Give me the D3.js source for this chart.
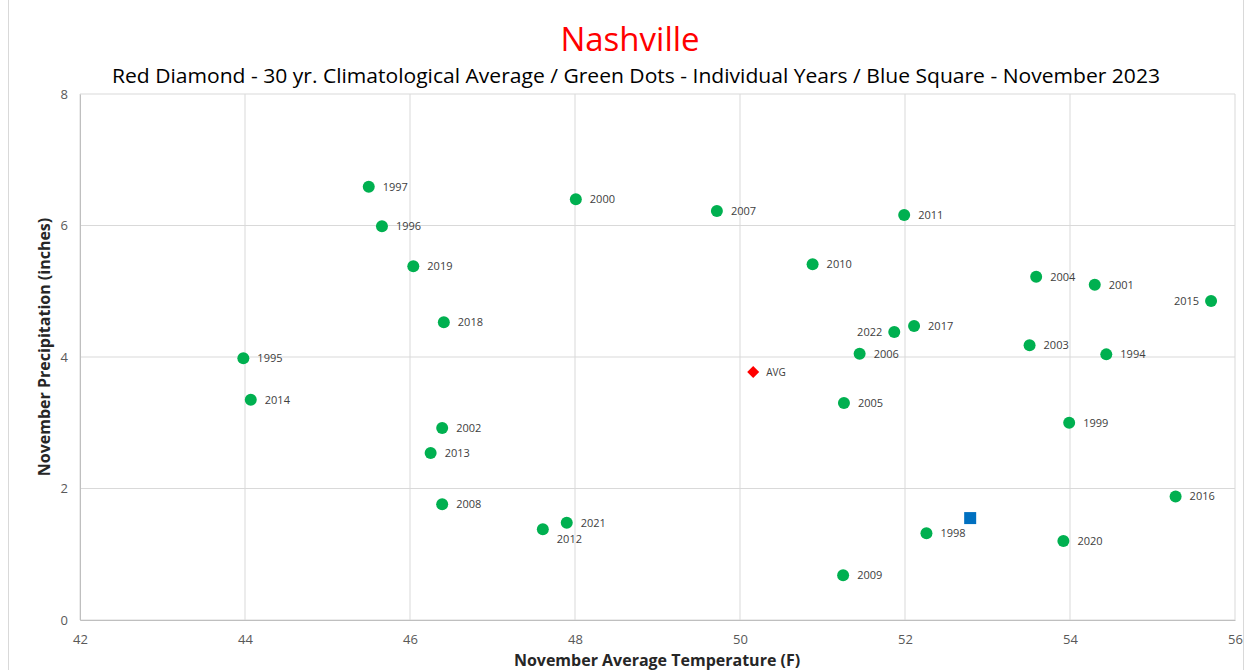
<!DOCTYPE html>
<html>
<head>
<meta charset="utf-8">
<script src="https://cdn.jsdelivr.net/npm/d3@7"></script>
<style>
  body { margin: 0; background: #fff; }
  svg text { font-family: "Open Sans", "Noto Sans", sans-serif; }
</style>
</head>
<body>
<div id="chart"></div>
<script>
// individual years: [year, temperature (F), precipitation (in)]
const years = [1994, 1995, 1996, 1997, 1998, 1999, 2000, 2001, 2002, 2003, 2004, 2005, 2006, 2007,
               2008, 2009, 2010, 2011, 2012, 2013, 2014, 2015, 2016, 2017, 2018, 2019, 2020, 2021, 2022];
const temps = [54.44, 43.98, 45.66, 45.50, 52.26, 53.99, 48.01, 54.30, 46.39, 53.51, 53.59, 51.26, 51.45, 49.72,
               46.39, 51.25, 50.88, 51.99, 47.61, 46.25, 44.07, 55.71, 55.28, 52.11, 46.41, 46.04, 53.92, 47.90, 51.87];
const precip = [4.04, 3.98, 5.99, 6.59, 1.32, 3.00, 6.40, 5.10, 2.92, 4.18, 5.22, 3.30, 4.05, 6.22,
                1.76, 0.68, 5.41, 6.16, 1.38, 2.54, 3.35, 4.85, 1.88, 4.47, 4.53, 5.38, 1.20, 1.48, 4.38];
const labelLeft = [2015, 2022];
const labelBelow = [2012];

const avgPoint = { temp: 50.16, precip: 3.77, label: "AVG" };
const currentPoint = { temp: 52.79, precip: 1.55 };

const xTicks = [42, 44, 46, 48, 50, 52, 54, 56];
const yTicks = [0, 2, 4, 6, 8];

const width = 1252, height = 670;
const margin = { top: 94, right: 17, bottom: 50, left: 80 };

const svg = d3.select("#chart").append("svg")
  .attr("width", width)
  .attr("height", height);

svg.append("rect")
  .attr("x", 8.5).attr("y", -1)
  .attr("width", width - 17).attr("height", height + 2)
  .attr("fill", "none")
  .attr("stroke", "#d9d9d9");

const x = d3.scaleLinear().domain([42, 56]).range([margin.left, width - margin.right]);
const y = d3.scaleLinear().domain([0, 8]).range([height - margin.bottom, margin.top]);

// gridlines
svg.append("g").selectAll("line").data(xTicks).enter().append("line")
  .attr("x1", d => x(d)).attr("x2", d => x(d))
  .attr("y1", y(0)).attr("y2", y(8))
  .attr("stroke", "#d9d9d9");
svg.append("g").selectAll("line").data(yTicks).enter().append("line")
  .attr("x1", x(42)).attr("x2", x(56))
  .attr("y1", d => y(d)).attr("y2", d => y(d))
  .attr("stroke", "#d9d9d9");

// axes
const xAxis = svg.append("g")
  .attr("transform", `translate(0,${y(0)})`)
  .call(d3.axisBottom(x).tickValues(xTicks).tickSize(0).tickPadding(15));
const yAxis = svg.append("g")
  .attr("transform", `translate(${x(42)},0)`)
  .call(d3.axisLeft(y).tickValues(yTicks).tickSize(0).tickPadding(12));
[xAxis, yAxis].forEach(a => {
  a.select(".domain").attr("stroke", "#bfbfbf");
  a.selectAll("text").attr("fill", "#595959").style("font-size", "13px");
});

// titles
svg.append("text")
  .attr("x", 630).attr("y", 51)
  .attr("text-anchor", "middle")
  .attr("fill", "#ff0000")
  .style("font-size", "33px")
  .text("Nashville");
svg.append("text")
  .attr("x", 636).attr("y", 83)
  .attr("text-anchor", "middle")
  .attr("fill", "#000")
  .style("font-size", "20px")
  .attr("textLength", 1048)
  .attr("lengthAdjust", "spacingAndGlyphs")
  .text("Red Diamond - 30 yr. Climatological Average / Green Dots - Individual Years / Blue Square - November 2023");

svg.append("text")
  .attr("x", 657).attr("y", 666)
  .attr("text-anchor", "middle")
  .style("font-size", "16px")
  .style("font-weight", "bold")
  .attr("fill", "#262626")
  .text("November Average Temperature (F)");
svg.append("text")
  .attr("transform", "translate(50,347) rotate(-90)")
  .attr("text-anchor", "middle")
  .style("font-size", "16px")
  .style("font-weight", "bold")
  .attr("fill", "#262626")
  .text("November Precipitation (inches)");

// individual years
const points = years.map((yr, i) => ({ year: yr, temp: temps[i], precip: precip[i] }));
const g = svg.append("g");
g.selectAll("circle").data(points).enter().append("circle")
  .attr("cx", d => x(d.temp))
  .attr("cy", d => y(d.precip))
  .attr("r", 6)
  .attr("fill", "#00b050");

g.selectAll("text").data(points).enter().append("text")
  .attr("x", d => labelLeft.includes(d.year) ? x(d.temp) - 12 : x(d.temp) + 14)
  .attr("y", d => labelBelow.includes(d.year) ? y(d.precip) + 14 : y(d.precip) + 4)
  .attr("text-anchor", d => labelLeft.includes(d.year) ? "end" : "start")
  .attr("fill", "#404040")
  .style("font-size", "11px")
  .text(d => d.year);

// average
const ax = x(avgPoint.temp), ay = y(avgPoint.precip);
svg.append("path")
  .attr("d", `M${ax},${ay - 6}L${ax + 6},${ay}L${ax},${ay + 6}L${ax - 6},${ay}Z`)
  .attr("fill", "#ff0000");
svg.append("text")
  .attr("x", ax + 13).attr("y", ay + 4)
  .attr("fill", "#404040")
  .style("font-size", "10px")
  .text(avgPoint.label);

// November 2023
svg.append("rect")
  .attr("x", x(currentPoint.temp) - 6)
  .attr("y", y(currentPoint.precip) - 6)
  .attr("width", 12).attr("height", 12)
  .attr("fill", "#0070c0");
</script>
</body>
</html>
